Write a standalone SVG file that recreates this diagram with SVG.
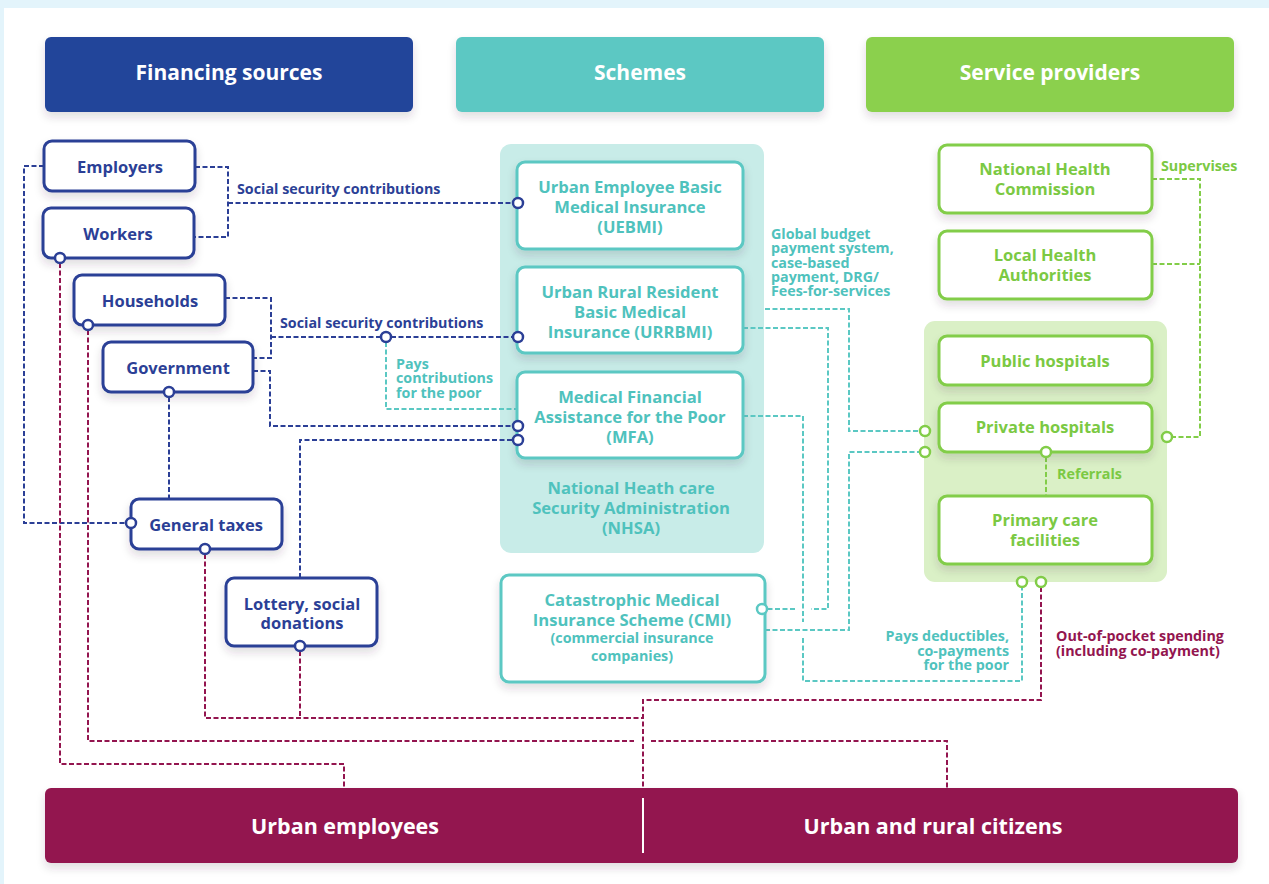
<svg xmlns="http://www.w3.org/2000/svg" width="1269" height="884" viewBox="0 0 1269 884">
<defs>
<filter id="sh" x="-20%" y="-20%" width="140%" height="160%"><feDropShadow dx="0" dy="5" stdDeviation="4" flood-color="#3a2a40" flood-opacity="0.16"/></filter>
<style>
text{font-family:"Open Sans","Noto Sans","Liberation Sans",sans-serif;font-weight:700;text-anchor:middle;dominant-baseline:central}
.hd{font-size:21px;fill:#fff}
.hb{font-size:21.5px;fill:#fff}
.nb{fill:#fff;stroke:#2b3f96;stroke-width:3}
.nt{fill:#fff;stroke:#5bc8c3;stroke-width:3}
.ng{fill:#fff;stroke:#82cd48;stroke-width:3}
.tb{font-size:16.5px;fill:#2b3f96}
.tt{font-size:16.6px;fill:#4fc2bd}
.tg{font-size:16.5px;fill:#7bc943}
.lb{font-size:14.3px;fill:#2b3f96;text-anchor:start}
.lt{font-size:14.3px;fill:#4fc2bd;text-anchor:start}
.lg{font-size:14.3px;fill:#7bc943;text-anchor:start}
.lm{font-size:14.3px;fill:#93154f;text-anchor:start}
.cb,.ct,.cg,.cm{fill:none;stroke-width:2;stroke-dasharray:5 2.5}
.cb{stroke:#2b3f96}.ct{stroke:#5bc8c3}.cg{stroke:#82cd48}.cm{stroke:#93154f}
.pb{fill:#fff;stroke:#2b3f96;stroke-width:2.5}
.pt{fill:#fff;stroke:#5bc8c3;stroke-width:2.5}
.pg{fill:#fff;stroke:#82cd48;stroke-width:2.5}
</style>
</defs>
<rect x="0" y="0" width="1269" height="884" fill="#e3f4fb"/>
<rect x="4" y="8" width="1265" height="876" fill="#fff"/>

<g id="header-financing"><rect x="45" y="37" width="368" height="75" rx="6" fill="#23449a" filter="url(#sh)"/><text class="hd" x="229" y="72">Financing sources</text></g>
<g id="header-schemes"><rect x="456" y="37" width="368" height="75" rx="6" fill="#5bc8c3" filter="url(#sh)"/><text class="hd" x="640" y="72">Schemes</text></g>
<g id="header-providers"><rect x="866" y="37" width="368" height="75" rx="6" fill="#8bd04e" filter="url(#sh)"/><text class="hd" x="1050" y="72">Service providers</text></g>

<g id="nhsa-container"><rect x="500" y="144" width="264" height="409" rx="11" fill="#c8ece8"/>
<text class="tt" x="631" y="487">National Heath care</text><text class="tt" x="631" y="507">Security Administration</text><text class="tt" x="631" y="527">(NHSA)</text></g>
<g id="providers-container"><rect x="924" y="321" width="243" height="261" rx="11" fill="#daf0c6"/></g>

<g id="connectors">
<path class="cb" d="M195,167 H228 V237 H194"/>
<path class="cb" d="M228,203 H513"/>
<path class="cb" d="M44,166 H24 V523 H126"/>
<path class="cb" d="M225,298 H271 V358 H253"/>
<path class="cb" d="M271,337 H513"/>
<path class="cb" d="M253,371 H270 V426 H513"/>
<path class="cb" d="M169,397 V499"/>
<path class="cb" d="M300,578 V440 H513"/>
<path class="ct" d="M386,342 V409 H517"/>
<path class="ct" d="M765,309 H849 V431 H920"/>
<path class="ct" d="M743,328 H828 V609 H811 M795,609 H767"/>
<path class="ct" d="M743,416 H803 V622 M803,638 V681 H1022 V587"/>
<path class="ct" d="M765,630 H849 V452 H920"/>
<path class="cg" d="M1152,179 H1200 V437 H1172"/>
<path class="cg" d="M1152,264 H1200"/>
<path class="cg" d="M1046,457 V496"/>
<path class="cm" d="M60,263 V764 H344 V788"/>
<path class="cm" d="M88,330 V741 H634 M651,741 H947 V788"/>
<path class="cm" d="M205,554 V718 H643"/>
<path class="cm" d="M300,651 V718"/>
<path class="cm" d="M1041,587 V700 H643 V788"/>
<circle class="pb" cx="386" cy="337" r="5"/>
<circle class="pg" cx="1167" cy="437" r="5"/>
<circle class="pg" cx="1022" cy="582" r="5"/>
<circle class="pg" cx="1041" cy="582" r="5"/>
<text class="lb" x="237" y="188">Social security contributions</text>
<text class="lb" x="280" y="322">Social security contributions</text>
<text class="lt" x="396" y="363">Pays</text>
<text class="lt" x="396" y="377">contributions</text>
<text class="lt" x="396" y="392">for the poor</text>
<text class="lt" x="771" y="233">Global budget</text>
<text class="lt" x="771" y="247">payment system,</text>
<text class="lt" x="771" y="262">case-based</text>
<text class="lt" x="771" y="276">payment, DRG/</text>
<text class="lt" x="771" y="290">Fees-for-services</text>
<text class="lt" x="1009" y="635" style="text-anchor:end">Pays deductibles,</text>
<text class="lt" x="1009" y="650" style="text-anchor:end">co-payments</text>
<text class="lt" x="1009" y="664" style="text-anchor:end">for the poor</text>
<text class="lm" x="1056" y="635">Out-of-pocket spending</text>
<text class="lm" x="1056" y="650">(including co-payment)</text>
<text class="lg" x="1161" y="165">Supervises</text>
<text class="lg" x="1057" y="473">Referrals</text>
</g>

<g id="employers"><rect class="nb" x="44" y="141" width="151" height="50" rx="8" filter="url(#sh)"/><text class="tb" x="120" y="166">Employers</text></g>
<g id="workers"><rect class="nb" x="43" y="208" width="151" height="50" rx="8" filter="url(#sh)"/><text class="tb" x="118" y="233">Workers</text><circle class="pb" cx="60" cy="258" r="5"/></g>
<g id="households"><rect class="nb" x="74" y="275" width="151" height="50" rx="8" filter="url(#sh)"/><text class="tb" x="150" y="300">Households</text><circle class="pb" cx="88" cy="325" r="5"/></g>
<g id="government"><rect class="nb" x="103" y="342" width="150" height="50" rx="8" filter="url(#sh)"/><text class="tb" x="178" y="367">Government</text><circle class="pb" cx="169" cy="392" r="5"/></g>
<g id="general-taxes"><rect class="nb" x="131" y="499" width="151" height="50" rx="8" filter="url(#sh)"/><text class="tb" x="206" y="524">General taxes</text><circle class="pb" cx="131" cy="523" r="5"/><circle class="pb" cx="205" cy="549" r="5"/></g>
<g id="lottery"><rect class="nb" x="226" y="578" width="151" height="68" rx="8" filter="url(#sh)"/><text class="tb" x="302" y="603">Lottery, social</text><text class="tb" x="302" y="622">donations</text><circle class="pb" cx="300" cy="646" r="5"/></g>

<g id="uebmi"><rect class="nt" x="517" y="162" width="226" height="87" rx="8" filter="url(#sh)"/><text class="tt" x="630" y="186">Urban Employee Basic</text><text class="tt" x="630" y="206">Medical Insurance</text><text class="tt" x="630" y="226">(UEBMI)</text><circle class="pb" cx="518" cy="203" r="5"/></g>
<g id="urrbmi"><rect class="nt" x="517" y="267" width="226" height="86" rx="8" filter="url(#sh)"/><text class="tt" x="630" y="291">Urban Rural Resident</text><text class="tt" x="630" y="311">Basic Medical</text><text class="tt" x="630" y="331">Insurance (URRBMI)</text><circle class="pb" cx="518" cy="337" r="5"/></g>
<g id="mfa"><rect class="nt" x="517" y="372" width="226" height="86" rx="8" filter="url(#sh)"/><text class="tt" x="630" y="396">Medical Financial</text><text class="tt" x="630" y="416">Assistance for the Poor</text><text class="tt" x="630" y="436">(MFA)</text><circle class="pb" cx="518" cy="426" r="5"/><circle class="pb" cx="518" cy="440" r="5"/></g>
<g id="cmi"><rect class="nt" x="501" y="575" width="264" height="107" rx="8" filter="url(#sh)"/><text class="tt" x="632" y="599">Catastrophic Medical</text><text class="tt" x="632" y="619">Insurance Scheme (CMI)</text><text class="tt" x="632" y="637" style="font-size:14.3px">(commercial insurance</text><text class="tt" x="632" y="655" style="font-size:14.3px">companies)</text><circle class="pt" cx="762" cy="609" r="5"/></g>

<g id="nhc"><rect class="ng" x="939" y="145" width="213" height="68" rx="8" filter="url(#sh)"/><text class="tg" x="1045" y="168">National Health</text><text class="tg" x="1045" y="188">Commission</text></g>
<g id="lha"><rect class="ng" x="939" y="231" width="213" height="68" rx="8" filter="url(#sh)"/><text class="tg" x="1045" y="254">Local Health</text><text class="tg" x="1045" y="274">Authorities</text></g>
<g id="public-hospitals"><rect class="ng" x="939" y="336" width="213" height="49" rx="8" filter="url(#sh)"/><text class="tg" x="1045" y="360">Public hospitals</text></g>
<g id="private-hospitals"><rect class="ng" x="939" y="403" width="213" height="49" rx="8" filter="url(#sh)"/><text class="tg" x="1045" y="426">Private hospitals</text><circle class="pg" cx="925" cy="431" r="5"/><circle class="pg" cx="925" cy="452" r="5"/><circle class="pg" cx="1046" cy="452" r="5"/></g>
<g id="primary-care"><rect class="ng" x="939" y="496" width="213" height="68" rx="8" filter="url(#sh)"/><text class="tg" x="1045" y="519">Primary care</text><text class="tg" x="1045" y="539">facilities</text></g>

<g id="beneficiaries"><rect x="45" y="788" width="1193" height="75" rx="6" fill="#93154f" filter="url(#sh)"/>
<line x1="643" y1="798" x2="643" y2="853" stroke="#fff" stroke-width="2"/>
<text class="hb" x="345" y="825">Urban employees</text><text class="hb" x="933" y="825">Urban and rural citizens</text></g>
</svg>
